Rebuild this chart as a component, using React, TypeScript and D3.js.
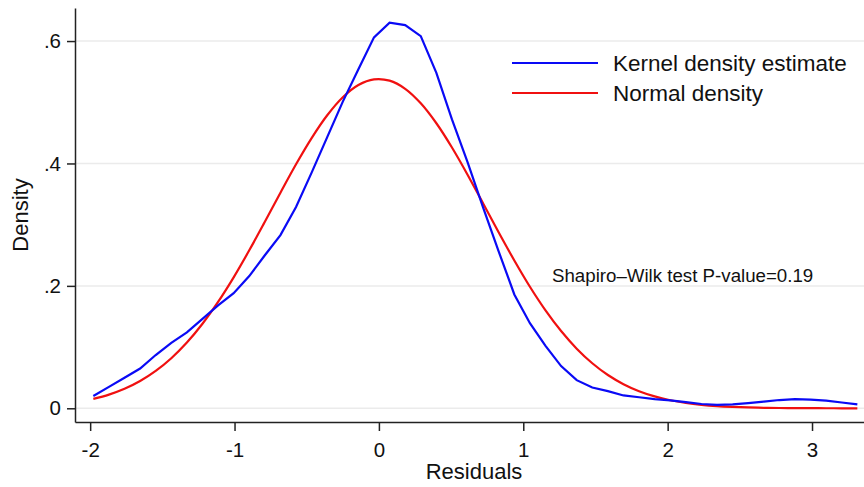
import React, { useEffect, useRef } from 'react';
import * as d3 from 'd3';

// evaluation grid (50 points, as Stata's kdensity uses)
const gridX = [
  -1.978, -1.87, -1.762, -1.654, -1.546, -1.438, -1.33, -1.222, -1.114, -1.006,
  -0.898, -0.79, -0.682, -0.574, -0.466, -0.358, -0.25, -0.142, -0.034, 0.074,
  0.182, 0.29, 0.398, 0.506, 0.614, 0.722, 0.83, 0.938, 1.046, 1.154,
  1.262, 1.37, 1.478, 1.586, 1.694, 1.802, 1.91, 2.018, 2.126, 2.234,
  2.342, 2.45, 2.558, 2.666, 2.774, 2.882, 2.99, 3.098, 3.206, 3.314,
];

const kernelDensity = [
  0.02, 0.035, 0.05, 0.065, 0.087, 0.107, 0.124, 0.146, 0.168, 0.188,
  0.216, 0.25, 0.283, 0.329, 0.385, 0.443, 0.501, 0.554, 0.606, 0.63,
  0.626, 0.608, 0.548, 0.472, 0.402, 0.328, 0.256, 0.186, 0.139, 0.102,
  0.069, 0.046, 0.034, 0.028, 0.021, 0.018, 0.015, 0.013, 0.01, 0.007,
  0.0055, 0.0065, 0.0085, 0.011, 0.0135, 0.015, 0.014, 0.0125, 0.0095, 0.0065,
];

const normalDensity = [
  0.0153, 0.0223, 0.0318, 0.0445, 0.061, 0.0818, 0.1074, 0.1381, 0.1738, 0.214,
  0.2581, 0.3047, 0.3522, 0.3986, 0.4414, 0.4787, 0.5082, 0.5282, 0.5374, 0.5353,
  0.522, 0.4983, 0.4657, 0.4261, 0.3817, 0.3346, 0.2873, 0.2415, 0.1986, 0.16,
  0.1262, 0.0974, 0.0736, 0.0544, 0.0394, 0.0279, 0.0194, 0.0132, 0.0088, 0.0057,
  0.0036, 0.0023, 0.0014, 0.0008, 0.0005, 0.0003, 0.0002, 0.0001, 0.0, 0.0,
];

const xTicks = [-2, -1, 0, 1, 2, 3];
const xTickLabels = ['-2', '-1', '0', '1', '2', '3'];
const yTicks = [0, 0.2, 0.4, 0.6];
const yTickLabels = ['0', '.2', '.4', '.6'];

const seriesNames = ['Kernel density estimate', 'Normal density'];
const seriesColors = ['#0a0af5', '#f01010'];
const note = 'Shapiro\u2013Wilk test P-value=0.19';

const FONT = '"Liberation Sans", Arial, sans-serif';

function DensityChart() {
  const svgRef = useRef<SVGSVGElement>(null);

  useEffect(() => {
    const svg = d3.select(svgRef.current);
    svg.selectAll('*').remove();

    const width = 864;
    const height = 487;
    const left = 75;
    const right = 864;
    const top = 8;
    const bottom = 422;

    svg.attr('width', width).attr('height', height);
    svg.append('rect').attr('width', width).attr('height', height).attr('fill', '#fff');

    const x = d3.scaleLinear().domain([-2.105, 3.36]).range([left, right]);
    const y = d3.scaleLinear().domain([-0.0224, 0.654]).range([bottom, top]);

    // gridlines
    svg.append('g')
      .selectAll('line')
      .data(yTicks)
      .enter()
      .append('line')
      .attr('x1', left)
      .attr('x2', right)
      .attr('y1', (d) => y(d))
      .attr('y2', (d) => y(d))
      .attr('stroke', '#ebebeb')
      .attr('stroke-width', 1.5);

    const yAxis = svg.append('g')
      .attr('transform', `translate(${left},0)`)
      .call(
        d3.axisLeft(y)
          .tickValues(yTicks)
          .tickFormat((d, i) => yTickLabels[i])
          .tickSize(8)
          .tickSizeOuter(0)
          .tickPadding(6)
      );

    const xAxis = svg.append('g')
      .attr('transform', `translate(0,${bottom})`)
      .call(
        d3.axisBottom(x)
          .tickValues(xTicks)
          .tickFormat((d, i) => xTickLabels[i])
          .tickSize(9)
          .tickSizeOuter(0)
          .tickPadding(11)
      );

    [xAxis, yAxis].forEach((g) => {
      g.select('.domain').attr('stroke', '#222').attr('stroke-width', 1.5);
      g.selectAll('.tick line').attr('stroke', '#222').attr('stroke-width', 1.5);
      g.selectAll('.tick text')
        .attr('fill', '#111')
        .style('font-family', FONT)
        .style('font-size', '20.5px');
    });

    const line = d3.line<number>()
      .x((d, i) => x(gridX[i]))
      .y((d) => y(d));

    svg.append('path')
      .datum(normalDensity)
      .attr('d', line.curve(d3.curveCatmullRom))
      .attr('fill', 'none')
      .attr('stroke', seriesColors[1])
      .attr('stroke-width', 2.2);

    svg.append('path')
      .datum(kernelDensity)
      .attr('d', line.curve(d3.curveLinear))
      .attr('fill', 'none')
      .attr('stroke', seriesColors[0])
      .attr('stroke-width', 2.2);

    // axis titles
    svg.append('text')
      .attr('x', 474)
      .attr('y', 479)
      .attr('text-anchor', 'middle')
      .style('font-family', FONT)
      .style('font-size', '22px')
      .attr('fill', '#111')
      .text('Residuals');

    svg.append('text')
      .attr('transform', 'translate(28,215) rotate(-90)')
      .attr('text-anchor', 'middle')
      .style('font-family', FONT)
      .style('font-size', '22px')
      .attr('fill', '#111')
      .text('Density');

    // legend
    const legend = svg.append('g');
    seriesNames.forEach((name, i) => {
      const ly = 63 + i * 30;
      legend.append('line')
        .attr('x1', 512)
        .attr('x2', 598)
        .attr('y1', ly)
        .attr('y2', ly)
        .attr('stroke', seriesColors[i])
        .attr('stroke-width', 2.2);
      legend.append('text')
        .attr('x', 613)
        .attr('y', ly + 8)
        .style('font-family', FONT)
        .style('font-size', '22.5px')
        .attr('fill', '#111')
        .text(name);
    });

    svg.append('text')
      .attr('x', 552)
      .attr('y', 282)
      .style('font-family', FONT)
      .style('font-size', '18.7px')
      .attr('fill', '#111')
      .text(note);
  }, []);

  return <svg ref={svgRef} style={{ position: 'absolute', left: 0, top: 0, display: 'block' }}></svg>;
}

export default function App() {
  return <DensityChart />;
}
